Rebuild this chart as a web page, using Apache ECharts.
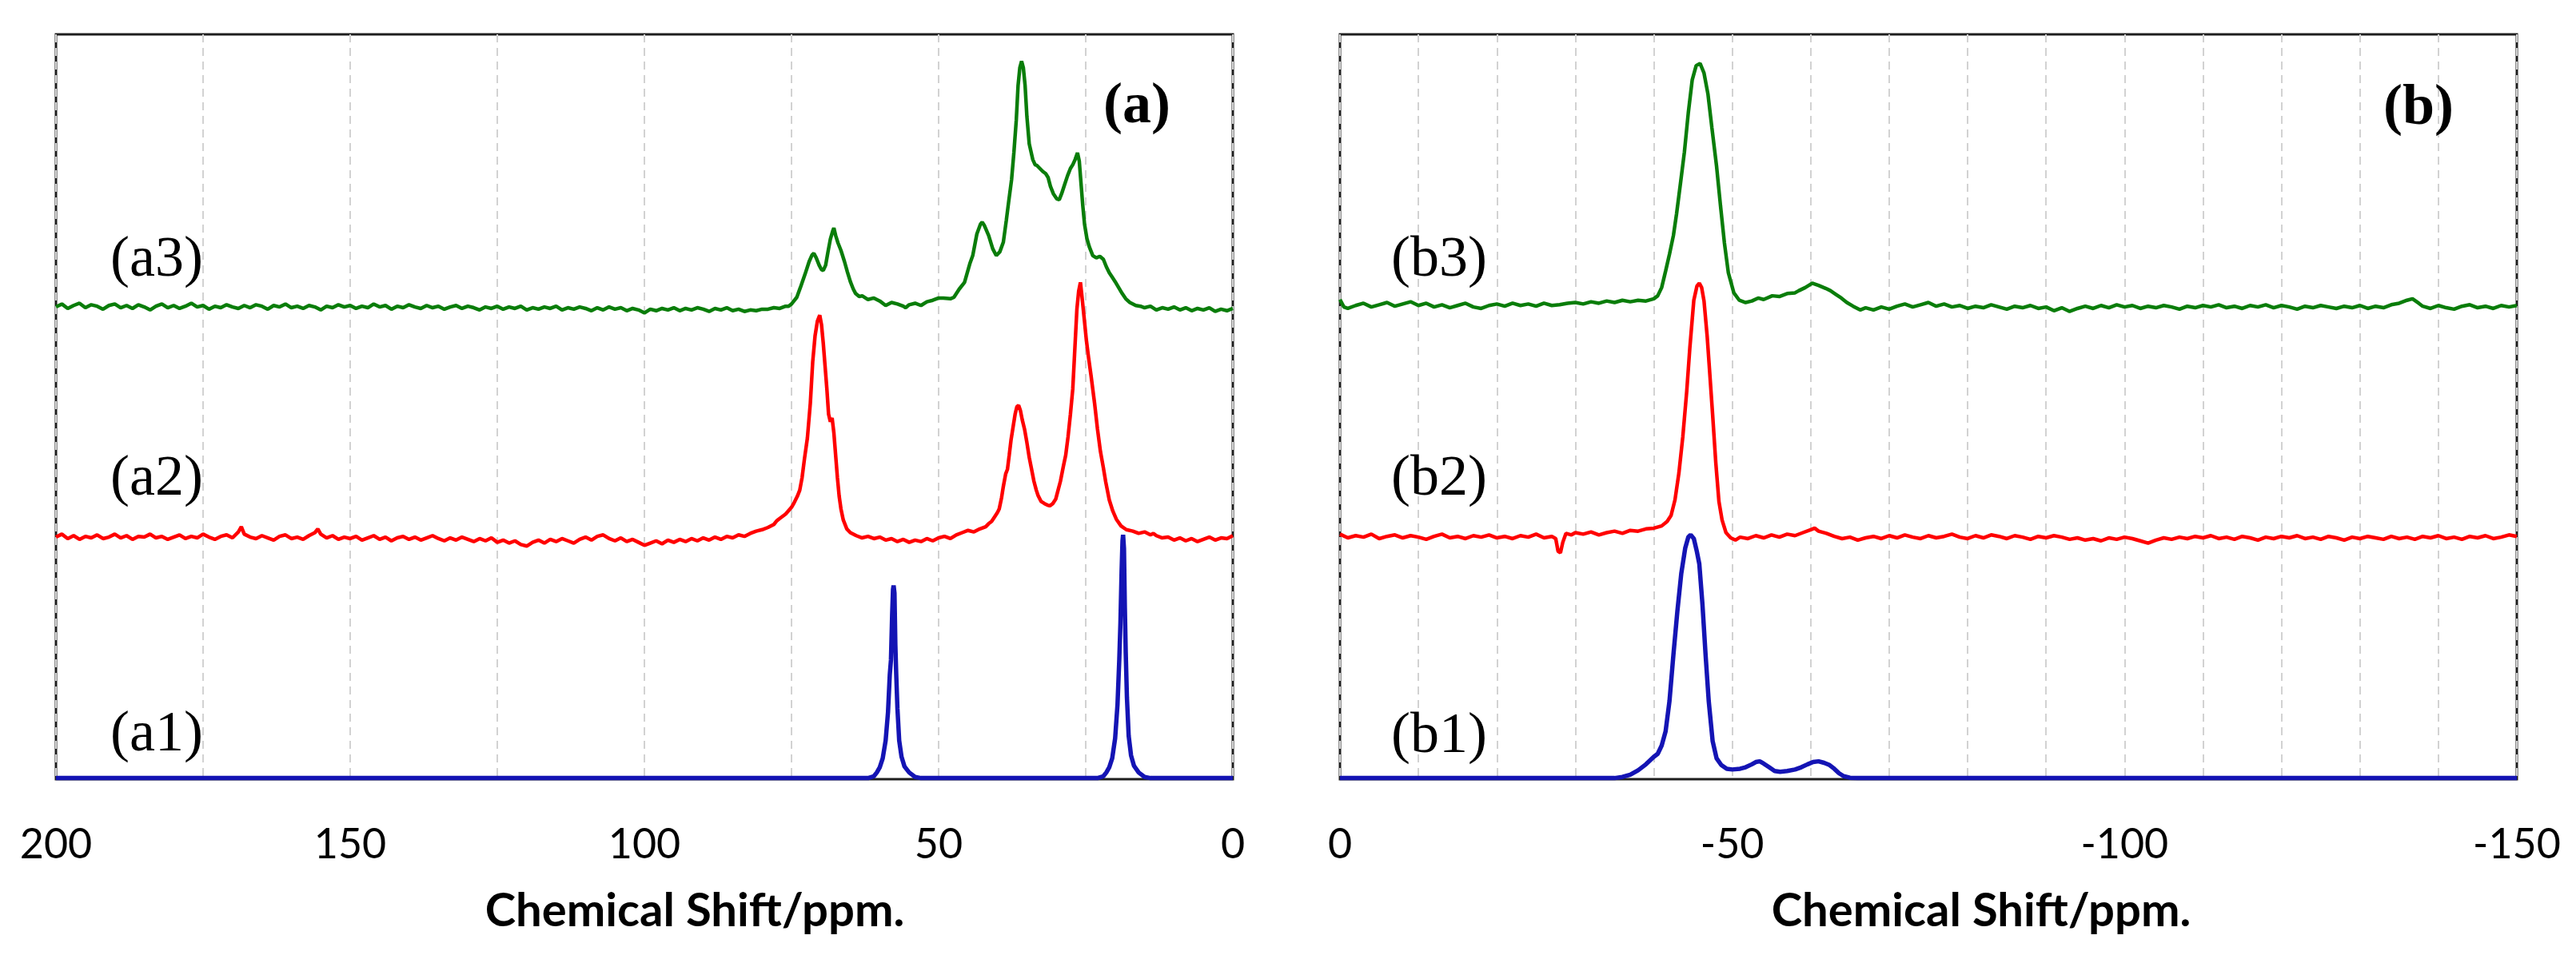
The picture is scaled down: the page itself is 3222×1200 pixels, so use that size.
<!DOCTYPE html>
<html><head><meta charset="utf-8">
<script src="https://cdn.jsdelivr.net/npm/echarts@6.0.0/dist/echarts.min.js"></script>
<style>html,body{margin:0;padding:0;background:#fff}#c{width:3222px;height:1200px}</style>
</head><body><div id="c"></div><script>
// ---- Data (chemical shift ppm, stacked intensity in arbitrary units 0-100) ----
const axisTitle = 'Chemical Shift/ppm.';
const labelsA = ['(a1)', '(a2)', '(a3)'];
const labelsB = ['(b1)', '(b2)', '(b3)'];
const panelTags = ['(a)', '(b)'];

const a1Data = [[200,0.15],[120,0.15],[62,0.15],[61,0.4],[60.5,0.9],[60,1.6],[59.5,2.8],[59,5.2],[58.6,9],[58.3,14],[58.1,16],[57.9,22],[57.75,25.5],[57.65,26],[57.5,25],[57.35,18],[57.2,14],[57,9.5],[56.7,5.2],[56.3,3],[55.8,1.7],[55,0.9],[54,0.3],[53,0.15],
[23,0.15],[22,0.4],[21.5,0.9],[21,1.6],[20.5,2.8],[20,5.5],[19.6,10],[19.3,16],[19.1,21],[18.9,28],[18.75,32],[18.65,32.8],[18.5,31],[18.35,23],[18.2,17],[18,11],[17.7,5.8],[17.3,3.2],[16.8,1.8],[16,0.9],[15,0.3],[14,0.15],[0,0.15]];

const a2Data = [[200,32.5],[199,32.9],[198,32.3],[197,32.7],[196,32.2],[195,32.6],[194,32.4],[193,32.8],[192,32.3],[191,32.5],[190,32.9],[189,32.4],[188,32.7],[187,32.2],[186,32.6],[185,32.5],[184,32.9],[183,32.4],[182,32.6],[181,32.2],[180,32.5],[179,32.8],[178,32.3],[177,32.6],[176,32.4],[175,32.9],[174,32.5],[173,32.2],[172,32.6],[171,32.8],[170,32.4],[169,33.2],[168.5,33.9],[168,32.9],[167,32.5],[166,32.3],[165,32.7],[164,32.4],[163,32.1],[162,32.6],[161,32.8],[160,32.3],[159,32.5],[158,32.2],[157,32.7],[156,33.1],[155.5,33.6],[155,32.9],[154,32.4],[153,32.7],[152,32.2],[151,32.5],[150,32.3],[149,32.6],[148,32.1],[147,32.4],[146,32.7],[145,32.2],[144,32.5],[143,32.0],[142,32.4],[141,32.6],[140,32.2],[139,32.5],[138,32.1],[137,32.4],[136,32.7],[135,32.3],[134,32.0],[133,32.4],[132,32.1],[131,32.5],[130,32.2],[129,31.9],[128,32.3],[127,32.0],[126,32.4],[125,31.8],[124,32.1],[123,31.7],[122,32.0],[121,31.5],[120,31.3],[119,31.8],[118,32.1],[117,31.7],[116,32.2],[115,31.9],[114,32.3],[113,32.0],[112,31.7],[111,32.2],[110,32.5],[109,32.1],[108,32.6],[107,32.8],[106,32.3],[105,32.0],[104,32.4],[103,31.9],[102,32.2],[101,31.8],[100,31.4],[99,31.7],[98,32.0],[97,31.6],[96,32.1],[95,31.8],[94,32.2],[93,31.9],[92,32.3],[91,32.0],[90,32.4],[89,32.1],[88,32.5],[87,32.2],[86,32.6],[85,32.4],[84,32.8],[83,32.6],[82,33.0],[81,33.3],[80,33.5],[79,33.8],[78,34.2],[77.5,34.7],[77,35.0],[76,35.6],[75,36.5],[74.5,37.2],[74,38.0],[73.6,38.8],[73.2,40.5],[72.8,43.0],[72.3,45.8],[71.8,50.5],[71.4,56.0],[71.0,59.5],[70.6,61.5],[70.2,62.3],[69.9,61.0],[69.6,58.5],[69.3,55.5],[69.0,52.5],[68.7,49.0],[68.4,48.0],[68.1,48.5],[67.8,46.5],[67.5,43.5],[67.2,40.5],[66.9,38.0],[66.6,36.3],[66.2,34.8],[65.6,33.6],[65.0,33.1],[64,32.7],[63,32.4],[62,32.6],[61,32.3],[60,32.5],[59,32.1],[58,32.3],[57,31.9],[56,32.2],[55,31.8],[54,32.1],[53,31.9],[52,32.3],[51,32.0],[50,32.4],[49,32.6],[48,32.3],[47,32.8],[46,33.1],[45,33.4],[44,33.2],[43,33.6],[42,33.9],[41.5,34.3],[41,34.6],[40.5,35.2],[40,35.8],[39.7,36.3],[39.3,37.8],[39.0,39.3],[38.6,41.0],[38.3,41.6],[38.0,43.5],[37.7,45.5],[37.4,47.0],[37.0,49.0],[36.7,50.0],[36.4,50.2],[36.1,49.5],[35.8,48.3],[35.4,47.0],[35.0,45.2],[34.6,43.2],[34.2,41.6],[33.8,40.0],[33.4,38.8],[33.1,38.1],[32.6,37.3],[32.0,37.0],[31.5,36.8],[31.1,36.7],[30.6,37.0],[30.1,37.6],[29.7,38.8],[29.3,40.0],[28.8,42.0],[28.4,43.5],[28.0,46.0],[27.6,49.0],[27.2,52.4],[26.9,57.0],[26.5,63.1],[26.2,65.5],[25.9,66.7],[25.6,64.5],[25.2,61.4],[24.9,59.0],[24.5,56.5],[24.1,54.2],[23.5,50.5],[23.0,47.0],[22.5,44.0],[22.0,41.8],[21.6,39.9],[21.0,37.5],[20.4,36.0],[19.8,34.9],[19.0,34.0],[18.1,33.5],[17,33.3],[16,33.0],[15,33.2],[14,32.8],[13.5,33.0],[13,32.7],[12,32.4],[11,32.5],[10,32.1],[9,32.4],[8,32.0],[7,32.3],[6,31.9],[5,32.2],[4,32.5],[3,32.1],[2,32.4],[1,32.3],[0,32.7]];

const a3Data = [[200,63.4],[199,63.8],[198,63.2],[197,63.6],[196,63.9],[195,63.3],[194,63.7],[193,63.5],[192,63.1],[191,63.6],[190,63.8],[189,63.3],[188,63.6],[187,63.2],[186,63.7],[185,63.4],[184,63.0],[183,63.5],[182,63.8],[181,63.3],[180,63.6],[179,63.2],[178,63.5],[177,63.9],[176,63.4],[175,63.6],[174,63.1],[173,63.5],[172,63.3],[171,63.7],[170,63.4],[169,63.2],[168,63.6],[167,63.3],[166,63.7],[165,63.5],[164,63.1],[163,63.6],[162,63.4],[161,63.8],[160,63.3],[159,63.5],[158,63.2],[157,63.6],[156,63.4],[155,63.0],[154,63.5],[153,63.3],[152,63.7],[151,63.4],[150,63.6],[149,63.2],[148,63.5],[147,63.3],[146,63.8],[145,63.4],[144,63.6],[143,63.1],[142,63.5],[141,63.3],[140,63.7],[139,63.4],[138,63.2],[137,63.6],[136,63.3],[135,63.5],[134,63.1],[133,63.4],[132,63.6],[131,63.2],[130,63.5],[129,63.3],[128,63.0],[127,63.4],[126,63.2],[125,63.5],[124,63.1],[123,63.4],[122,63.2],[121,63.5],[120,63.0],[119,63.3],[118,63.1],[117,63.4],[116,63.2],[115,63.5],[114,63.0],[113,63.3],[112,63.1],[111,63.4],[110,63.2],[109,62.9],[108,63.3],[107,63.0],[106,63.4],[105,63.1],[104,63.3],[103,62.9],[102,63.2],[101,63.0],[100,62.6],[99,63.1],[98,62.9],[97,63.2],[96,63.0],[95,63.3],[94,62.9],[93,63.2],[92,63.0],[91,63.3],[90,63.1],[89,62.8],[88,63.2],[87,63.0],[86,63.3],[85,62.9],[84,63.1],[83,62.8],[82,63.0],[81,62.9],[80,63.1],[79,63.1],[78,63.3],[77,63.2],[76,63.5],[75.5,63.5],[75,63.8],[74.1,64.7],[73.5,66.0],[72.7,67.8],[72.0,69.5],[71.5,70.4],[71.2,70.6],[70.8,70.0],[70.3,69.0],[69.9,68.4],[69.6,68.3],[69.2,69.0],[68.8,70.8],[68.4,72.5],[68.0,73.6],[67.8,74.0],[67.5,73.0],[67.1,72.0],[66.6,71.0],[66.0,69.5],[65.5,68.1],[65.0,66.8],[64.5,65.8],[64.1,65.2],[63.5,64.8],[63,64.9],[62,64.4],[61,64.6],[60,64.2],[59,63.6],[58,64.0],[57,63.8],[56,63.5],[55.6,63.3],[55,63.7],[54,63.9],[53,63.6],[52,64.1],[51,64.3],[50,64.6],[49.2,64.6],[48,64.5],[47.4,64.7],[46.5,65.8],[45.6,66.7],[44.7,69.2],[44.2,70.3],[43.5,73.2],[42.9,74.5],[42.6,74.8],[42.2,74.3],[41.5,73.0],[40.8,71.2],[40.2,70.3],[39.6,70.8],[39.0,72.1],[38.5,75.0],[38.1,77.5],[37.6,80.5],[37.2,84.2],[36.8,88.5],[36.5,93.1],[36.2,95.5],[35.9,96.4],[35.6,95.5],[35.3,93.1],[35.0,89.0],[34.6,85.3],[34.0,83.2],[33.6,82.5],[33.3,82.4],[32.8,82.0],[32.3,81.6],[31.8,81.3],[31.4,80.8],[31.0,79.6],[30.5,78.6],[29.9,77.9],[29.5,77.8],[29.1,78.6],[28.6,79.8],[28.1,81.0],[27.6,82.0],[27.2,82.5],[26.8,83.2],[26.4,84.1],[26.1,83.0],[25.8,80.0],[25.5,77.0],[25.2,74.5],[24.8,72.6],[24.4,71.5],[23.8,70.3],[23.2,70.0],[22.6,70.2],[22.0,69.8],[21.5,68.8],[21.0,68.0],[20.5,67.4],[20.0,66.8],[19.4,66.0],[18.8,65.2],[18.2,64.5],[17.5,64.0],[16.5,63.6],[15.7,63.5],[15,63.3],[14,63.5],[13,63.0],[12,63.3],[11,63.1],[10,63.4],[9,63.0],[8,63.3],[7,62.9],[6,63.2],[5,63.0],[4,63.3],[3,62.8],[2,63.1],[1,62.9],[0,63.2]];

const b1Data = [[0,0.15],[-35,0.15],[-36,0.3],[-37,0.6],[-38,1.2],[-39,2.0],[-40,3.0],[-40.5,3.4],[-41,4.5],[-41.5,6.4],[-42,10.5],[-42.5,16.7],[-43,22.5],[-43.5,27.6],[-44,31.0],[-44.4,32.5],[-44.7,32.8],[-45.1,32.3],[-45.5,30.5],[-45.8,28.9],[-46.2,23.5],[-46.6,16.7],[-47,10.5],[-47.5,5.1],[-48,2.8],[-48.6,1.9],[-49.3,1.4],[-50,1.3],[-51,1.4],[-51.7,1.6],[-52.5,2.0],[-53,2.3],[-53.5,2.4],[-54,2.1],[-54.7,1.6],[-55.4,1.1],[-56.1,1.0],[-57,1.1],[-58,1.3],[-58.8,1.6],[-59.6,2.0],[-60.3,2.3],[-61,2.4],[-61.7,2.2],[-62.4,1.9],[-63,1.4],[-63.6,0.8],[-64.2,0.4],[-65,0.2],[-66,0.15],[-150,0.15]];

const b2Data = [[0,32.9],[-1,32.4],[-2,32.7],[-3,32.5],[-4,32.9],[-5,32.3],[-6,32.6],[-7,32.8],[-8,32.4],[-9,32.7],[-10,32.5],[-11,32.2],[-12,32.6],[-13,32.9],[-14,32.4],[-15,32.6],[-16,32.3],[-17,32.7],[-18,32.5],[-19,32.8],[-20,32.4],[-21,32.6],[-22,32.3],[-23,32.7],[-24,32.5],[-25,32.9],[-26,32.4],[-27,32.6],[-27.5,32.3],[-27.8,30.6],[-28.1,30.4],[-28.4,31.8],[-28.8,33.0],[-29.5,32.8],[-30,33.1],[-31,32.9],[-32,33.2],[-33,32.8],[-34,33.1],[-35,33.3],[-36,33.0],[-37,33.4],[-38,33.3],[-39,33.6],[-40,33.7],[-41,34.0],[-41.7,34.6],[-42.2,35.4],[-42.7,37.5],[-43.2,41.1],[-43.7,46.0],[-44.2,52.1],[-44.6,58.0],[-45.1,64.3],[-45.5,66.2],[-45.8,66.6],[-46.1,66.0],[-46.4,64.2],[-46.8,59.5],[-47.1,55.0],[-47.5,48.9],[-47.9,42.5],[-48.3,37.3],[-48.7,34.8],[-49.2,33.1],[-49.8,32.4],[-50.4,32.1],[-51,32.5],[-52,32.3],[-53,32.7],[-54,32.4],[-55,32.8],[-56,32.5],[-57,32.9],[-58,32.7],[-59,33.1],[-60,33.5],[-60.5,33.7],[-61,33.3],[-62,33.0],[-63,32.6],[-64,32.3],[-65,32.5],[-66,32.1],[-67,32.4],[-68,32.6],[-69,32.3],[-70,32.7],[-71,32.4],[-72,32.8],[-73,32.5],[-74,32.3],[-75,32.7],[-76,32.4],[-77,32.6],[-78,32.9],[-79,32.5],[-80,32.3],[-81,32.7],[-82,32.4],[-83,32.8],[-84,32.6],[-85,32.3],[-86,32.7],[-87,32.5],[-88,32.2],[-89,32.6],[-90,32.4],[-91,32.7],[-92,32.5],[-93,32.2],[-94,32.4],[-95,32.1],[-96,32.3],[-97,32.0],[-98,32.4],[-99,32.2],[-100,32.5],[-101,32.3],[-102,32.0],[-103,31.7],[-104,32.1],[-105,32.4],[-106,32.2],[-107,32.5],[-108,32.3],[-109,32.6],[-110,32.4],[-111,32.7],[-112,32.3],[-113,32.5],[-114,32.2],[-115,32.6],[-116,32.4],[-117,32.1],[-118,32.5],[-119,32.3],[-120,32.6],[-121,32.4],[-122,32.7],[-123,32.3],[-124,32.5],[-125,32.2],[-126,32.6],[-127,32.4],[-128,32.1],[-129,32.5],[-130,32.3],[-131,32.6],[-132,32.4],[-133,32.2],[-134,32.6],[-135,32.3],[-136,32.5],[-137,32.2],[-138,32.6],[-139,32.4],[-140,32.7],[-141,32.3],[-142,32.5],[-143,32.2],[-144,32.6],[-145,32.4],[-146,32.7],[-147,32.3],[-148,32.5],[-149,32.8],[-150,32.6]];

const b3Data = [[0,64.4],[-0.5,63.4],[-1,63.2],[-2,63.6],[-3,63.9],[-4,63.4],[-5,63.7],[-6,64.0],[-7,63.5],[-8,63.8],[-9,64.1],[-10,63.6],[-11,63.9],[-12,63.4],[-13,63.7],[-14,63.3],[-15,63.6],[-16,63.9],[-17,63.4],[-18,63.2],[-19,63.6],[-20,63.8],[-21,63.5],[-22,63.9],[-23,63.6],[-24,63.8],[-25,63.5],[-26,63.9],[-27,63.6],[-28,63.7],[-29,63.9],[-30,64.0],[-31,63.8],[-32,64.1],[-33,63.9],[-34,64.2],[-35,64.0],[-36,64.3],[-37,64.1],[-38,64.3],[-39,64.2],[-40,64.5],[-40.5,64.9],[-41,66.0],[-41.5,68.2],[-42,70.5],[-42.5,73.0],[-42.9,75.9],[-43.4,80.0],[-43.9,84.2],[-44.4,89.5],[-44.9,93.9],[-45.4,95.8],[-45.9,96.1],[-46.4,94.8],[-46.9,92.0],[-47.4,87.5],[-48,82.3],[-48.5,77.0],[-49,72.0],[-49.5,68.0],[-50.2,65.3],[-50.9,64.3],[-51.7,64.0],[-52.5,64.2],[-53.3,64.6],[-54,64.4],[-55.1,64.9],[-56,64.8],[-57,65.2],[-58,65.3],[-58.5,65.6],[-59.3,66.0],[-60.2,66.6],[-61,66.3],[-61.9,65.9],[-62.5,65.6],[-63.2,65.1],[-63.9,64.6],[-64.6,64.0],[-65.4,63.5],[-66.3,63.0],[-67,63.3],[-68,63.0],[-69,63.4],[-70,63.1],[-71,63.5],[-72,63.8],[-73,63.4],[-74,63.7],[-75,64.0],[-76,63.5],[-77,63.8],[-78,63.4],[-79,63.6],[-80,63.2],[-81,63.5],[-82,63.3],[-83,63.7],[-84,63.4],[-85,63.1],[-86,63.5],[-87,63.3],[-88,63.6],[-89,63.2],[-90,63.4],[-91,62.9],[-92,63.3],[-93,62.8],[-94,63.2],[-95,63.5],[-96,63.2],[-97,63.6],[-98,63.3],[-99,63.7],[-100,63.4],[-101,63.6],[-102,63.2],[-103,63.5],[-104,63.3],[-105,63.6],[-106,63.4],[-107,63.1],[-108,63.5],[-109,63.3],[-110,63.6],[-111,63.4],[-112,63.7],[-113,63.3],[-114,63.5],[-115,63.2],[-116,63.6],[-117,63.4],[-118,63.7],[-119,63.3],[-120,63.6],[-121,63.4],[-122,63.1],[-123,63.5],[-124,63.3],[-125,63.6],[-126,63.4],[-127,63.2],[-128,63.5],[-129,63.3],[-130,63.6],[-131,63.2],[-132,63.5],[-133,63.3],[-134,63.7],[-135,63.9],[-136,64.3],[-136.7,64.5],[-137.5,63.9],[-138,63.5],[-139,63.2],[-140,63.6],[-141,63.3],[-142,63.1],[-143,63.5],[-144,63.7],[-145,63.3],[-146,63.5],[-147,63.2],[-148,63.6],[-149,63.4],[-150,63.6]];

// ---- Styles ----
const COLORS = { blue: '#1414b4', red: '#ff0000', green: '#0a7d0a' };
const gridLineStyle = { color: '#d2d2d2', type: [10, 7], width: 2 };
const tickFont = { fontFamily: 'Lato', fontSize: 52, color: '#000' };
const nameFont = { fontFamily: 'Lato', fontWeight: 'bold', fontSize: 58, color: '#000' };
const serif = '"Liberation Serif", "Times New Roman", serif';

function xAxisFor(gridIndex, min, max, minorSplit, shift) {
  return {
    gridIndex, type: 'value', min, max, interval: 50, inverse: true,
    axisLine: { show: false }, axisTick: { show: false },
    axisLabel: Object.assign({ margin: 56, showMinLabel: true, showMaxLabel: true }, tickFont),
    splitLine: { show: true, lineStyle: gridLineStyle },
    minorTick: { show: false, splitNumber: minorSplit },
    minorSplitLine: { show: true, lineStyle: gridLineStyle },
    name: axisTitle, nameLocation: 'middle', nameGap: 136,
    nameTextStyle: Object.assign({ padding: [0, 0, 0, shift] }, nameFont)
  };
}
function line(data, color, xi, yi, w) {
  return { type: 'line', data, xAxisIndex: xi, yAxisIndex: yi, showSymbol: false, symbol: 'none',
    lineStyle: { color, width: w }, itemStyle: { color }, silent: true, z: 3 };
}
function txt(x, y, text, weight, align) {
  return { type: 'text', x, y, z: 10, style: { text, font: (weight || 'normal') + ' 72px ' + serif,
    fill: '#000', align: align || 'left', verticalAlign: 'middle' } };
}

const chart = echarts.init(document.getElementById('c'), null, { renderer: 'canvas' });
chart.setOption({
  animation: false,
  backgroundColor: '#fff',
  grid: [
    { left: 70, right: 1680, top: 43, bottom: 225, show: true, borderColor: '#1e1e1e', borderWidth: 3 },
    { left: 1676, right: 74, top: 43, bottom: 225, show: true, borderColor: '#1e1e1e', borderWidth: 3 }
  ],
  xAxis: [ xAxisFor(0, 0, 200, 2, 126), xAxisFor(1, -150, 0, 5, 132) ],
  yAxis: [ { gridIndex: 0, min: 0, max: 100, show: false }, { gridIndex: 1, min: 0, max: 100, show: false } ],
  series: [
    line(a1Data, COLORS.blue, 0, 0, 5.5), line(a2Data, COLORS.red, 0, 0, 4.5), line(a3Data, COLORS.green, 0, 0, 4.5),
    line(b1Data, COLORS.blue, 1, 1, 5.5), line(b2Data, COLORS.red, 1, 1, 4.5), line(b3Data, COLORS.green, 1, 1, 4.5)
  ],
  graphic: [
    txt(138, 920, labelsA[0]), txt(138, 600, labelsA[1]), txt(138, 326, labelsA[2]),
    txt(1740, 922, labelsB[0]), txt(1740, 600, labelsB[1]), txt(1740, 326, labelsB[2]),
    txt(1422, 134, panelTags[0], 'bold', 'center'), txt(3025, 136, panelTags[1], 'bold', 'center')
  ]
});
</script></body></html>
